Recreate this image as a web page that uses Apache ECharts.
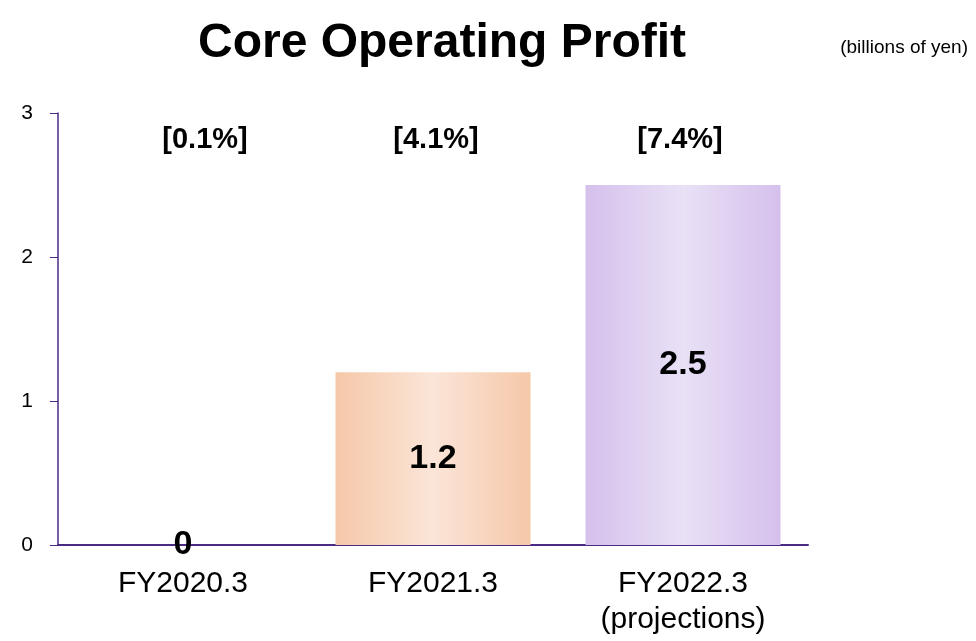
<!DOCTYPE html>
<html>
<head>
<meta charset="utf-8">
<script src="https://cdn.jsdelivr.net/npm/echarts@6/dist/echarts.min.js"></script>
<style>
  html, body { margin: 0; padding: 0; background: #fff; }
  #chart { width: 976px; height: 641px; }
</style>
</head>
<body>
<div id="chart"></div>
<script>
// 数据
var categories = ['FY2020.3', 'FY2021.3', 'FY2022.3\n(projections)'];
var profit = [0, 1.2, 2.5];
var margins = ['[0.1%]', '[4.1%]', '[7.4%]'];
var yTicks = [0, 1, 2, 3];
var marginLabelY = 2.81; // 百分比标签所在高度

function grad(edge, mid) {
  return new echarts.graphic.LinearGradient(0, 0, 1, 0, [
    { offset: 0, color: edge },
    { offset: 0.5, color: mid },
    { offset: 1, color: edge }
  ]);
}
var barColors = [
  grad('#F5C8A8', '#FBE5D8'),
  grad('#F5C8A8', '#FBE5D8'),
  grad('#D5C0EC', '#E9E1F6')
];
// 百分比标签的水平偏移（原图中不完全居中）
var shiftX = [22, 3, -3];

var myChart = echarts.init(document.getElementById('chart'));
myChart.setOption({
  animation: false,
  textStyle: { fontFamily: 'Liberation Sans, Arial, sans-serif' },
  title: [{
    text: 'Core Operating Profit',
    left: 437, top: 15, textAlign: 'center',
    textStyle: { fontSize: 48, fontWeight: 'bold', color: '#000' }
  }, {
    text: '(billions of yen)',
    right: 3, top: 33,
    textStyle: { fontSize: 19, fontWeight: 'normal', color: '#000' }
  }],
  grid: { left: 58, right: 168, top: 113, bottom: 96 },
  xAxis: {
    type: 'category',
    data: categories,
    axisLine: { lineStyle: { color: '#4B2A84', width: 2 } },
    axisTick: { show: false },
    axisLabel: { color: '#000', fontSize: 30, margin: 21, lineHeight: 36 }
  },
  yAxis: {
    type: 'value',
    min: yTicks[0], max: yTicks[yTicks.length - 1], interval: 1,
    splitLine: { show: false },
    axisLine: { show: true, lineStyle: { color: '#4B2A84', width: 1.5 } },
    axisTick: { show: true, length: 8, lineStyle: { color: '#4B2A84' } },
    axisLabel: { color: '#000', fontSize: 21, margin: 25 }
  },
  series: [{
    type: 'bar',
    barCategoryGap: '22%',
    data: profit.map(function (v, i) {
      return { value: v, itemStyle: { color: barColors[i] } };
    }),
    label: {
      show: true, position: 'inside',
      color: '#000', fontSize: 34, fontWeight: 'bold'
    },
    z: 1
  }, {
    type: 'scatter',
    symbolSize: 0,
    itemStyle: { opacity: 1 },
    data: margins.map(function (m, i) {
      return { value: marginLabelY, label: { offset: [shiftX[i], 0] } };
    }),
    label: {
      show: true, position: 'inside',
      formatter: function (p) { return margins[p.dataIndex]; },
      color: '#000', fontSize: 29, fontWeight: 'bold'
    },
    silent: true
  }]
});
</script>
</body>
</html>
